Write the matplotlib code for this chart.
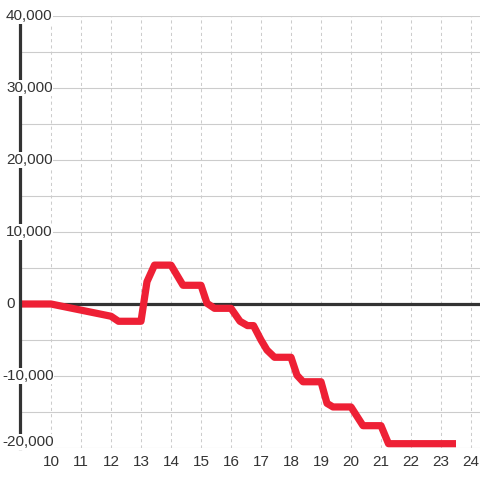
import matplotlib
matplotlib.use('Agg')
import matplotlib.pyplot as plt

plt.rcParams['font.family'] = ['Liberation Sans', 'DejaVu Sans']

# 累计值 (时刻, 数值)
hours = [9, 10, 12, 12.25, 13, 13.2, 13.45, 14, 14.4, 15, 15.2, 15.45, 16,
         16.3, 16.55, 16.75, 17, 17.2, 17.45, 18, 18.2, 18.4, 19, 19.2, 19.4,
         20, 20.4, 21, 21.25, 23.5]
values = [0, 0, -1700, -2400, -2400, 3100, 5400, 5400, 2600, 2600, 100, -600,
          -600, -2400, -3000, -3000, -5000, -6400, -7400, -7400, -9900, -10800,
          -10800, -13800, -14300, -14300, -16900, -16900, -19400, -19400]

x_ticks = list(range(10, 25))
y_ticks = [-20000, -10000, 0, 10000, 20000, 30000, 40000]
y_grid = list(range(-20000, 40001, 5000))


def main():
    fig = plt.figure(figsize=(4.8, 4.8), dpi=100)
    ax = fig.add_axes([20 / 480, 32 / 480, 460 / 480, 432 / 480])
    ax.set_xlim(8.967, 24.3)
    ax.set_ylim(-20000, 40000)

    # 网格
    for v in y_grid:
        ax.axhline(v, color='#cccccc', lw=0.8, zorder=1)
    for h in x_ticks:
        ax.axvline(h, color='#cccccc', lw=0.75, ls=(0, (3, 3)), zorder=1)
    ax.axhline(0, color='#333333', lw=2.3, zorder=2)

    ax.plot(hours, values, color='#ee2035', lw=5.2, solid_joinstyle='round',
            solid_capstyle='butt', zorder=3)

    for s in ['top', 'right', 'bottom']:
        ax.spines[s].set_visible(False)
    ax.spines['left'].set_color('#333333')
    ax.spines['left'].set_linewidth(2.3)
    ax.spines['left'].set_bounds(-20000, 38900)
    ax.spines['left'].set_zorder(4)

    ax.set_xticks(x_ticks)
    ax.set_xticklabels([str(h) for h in x_ticks])
    ax.set_yticks([])
    ax.tick_params(axis='x', length=0, pad=5, labelsize=11, labelcolor='#333333')

    # y 轴标签, 白底盖住轴线
    for v in y_ticks:
        dx = -18 if v < 0 else -14
        dy = 6 if v == -20000 else 0
        ax.annotate(f'{v:,}', xy=(0, v),
                    xycoords=('axes fraction', 'data'),
                    xytext=(dx, dy), textcoords='offset pixels',
                    ha='left', va='center', fontsize=11, color='#333333',
                    annotation_clip=False, zorder=5,
                    bbox=dict(facecolor='white', edgecolor='none', pad=0.5))

    fig.savefig('out.png', dpi=100)


if __name__ == '__main__':
    main()
